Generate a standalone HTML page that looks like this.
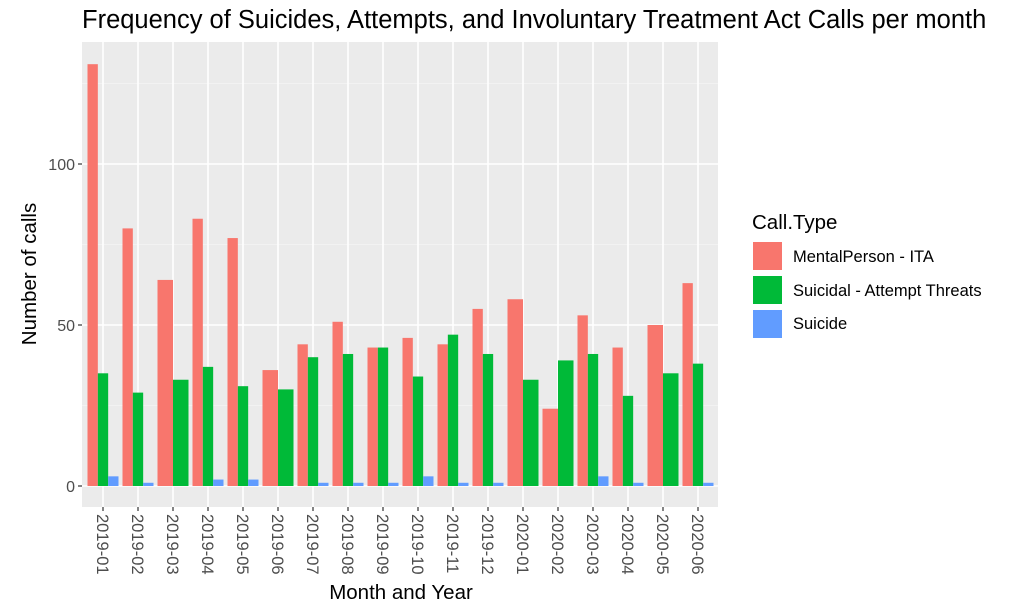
<!DOCTYPE html>
<html><head><meta charset="utf-8"><style>
body{margin:0;background:#fff;width:1024px;height:607px;overflow:hidden;font-family:"Liberation Sans",sans-serif}
</style></head><body>
<svg id="c" width="1024" height="607" xmlns="http://www.w3.org/2000/svg">
<text x="82" y="28" font-size="25.5" fill="#000">Frequency of Suicides, Attempts, and Involuntary Treatment Act Calls per month</text>
<rect x="82" y="42" width="636" height="465" fill="#EBEBEB"/>
<g id="grid"></g><g id="bars"></g><g id="axes"></g>
<text transform="translate(36,274) rotate(-90)" text-anchor="middle" font-size="20.5">Number of calls</text>
<text x="401" y="599" text-anchor="middle" font-size="20.5">Month and Year</text>
<g>
<text x="752" y="229" font-size="20.5">Call.Type</text>
<rect x="753" y="242" width="29" height="28" fill="#F8766D"/>
<text x="793" y="262" font-size="16.5">MentalPerson - ITA</text>
<rect x="753" y="276" width="29" height="28" fill="#00BA38"/>
<text x="793" y="296" font-size="16.5">Suicidal - Attempt Threats</text>
<rect x="753" y="310" width="29" height="28" fill="#619CFF"/>
<text x="793" y="329" font-size="16.5">Suicide</text>
</g>
</svg>
<script>
const categories=["2019-01","2019-02","2019-03","2019-04","2019-05","2019-06","2019-07","2019-08","2019-09","2019-10","2019-11","2019-12","2020-01","2020-02","2020-03","2020-04","2020-05","2020-06"];
const ita=[131,80,64,83,77,36,44,51,43,46,44,55,58,24,53,43,50,63];
const attempts=[35,29,33,37,31,30,40,41,43,34,47,41,33,39,41,28,35,38];
const suicides=[3,1,0,2,2,0,1,1,1,3,1,1,0,0,3,1,0,1];
const yTicks=[0,50,100];
const NS="http://www.w3.org/2000/svg";
const y=v=>486-v*3.22;
const xc=i=>103+35*i;
function mk(tag,attrs,parent){const e=document.createElementNS(NS,tag);for(const k in attrs)e.setAttribute(k,attrs[k]);parent.appendChild(e);return e;}
const grid=document.getElementById('grid'),bars=document.getElementById('bars'),axes=document.getElementById('axes');
[25,75,125].forEach(v=>{const l=mk('line',{x1:82,x2:718,y1:y(v),y2:y(v),stroke:'#F5F5F5','stroke-width':0.8},grid);

});
yTicks.forEach(v=>{const l=mk('line',{x1:82,x2:718,y1:y(v),y2:y(v),stroke:'#fff','stroke-width':1.6},grid);


const t=mk('text',{x:75,y:y(v)+6,'text-anchor':'end','font-size':16,fill:'#4D4D4D'},axes);t.textContent=v;


const tk=mk('line',{x1:78,x2:82,y1:y(v),y2:y(v),stroke:'#333','stroke-width':1.2},axes);

});
categories.forEach((c,i)=>{const l=mk('line',{x1:xc(i),x2:xc(i),y1:42,y2:507,stroke:'#fff','stroke-width':1.6},grid);


const tk=mk('line',{x1:xc(i),x2:xc(i),y1:507,y2:511,stroke:'#333','stroke-width':1.2},axes);


const t=mk('text',{transform:`translate(${xc(i)-6},514) rotate(90)`,'font-size':16.5,fill:'#4D4D4D'},axes);t.textContent=c;


const series=[[ita[i],'#F8766D','bar-ita'],[attempts[i],'#00BA38','bar-attempt'],[suicides[i],'#619CFF','bar-suicide']].filter(s=>s[0]>0);
const gw=31,w=gw/series.length;let x0=xc(i)-gw/2;
series.forEach(s=>{const r=mk('rect',{x:x0,y:y(s[0]),width:w,height:y(0)-y(s[0]),fill:s[1]},bars);


x0+=w;});});
</script>
</body></html>
